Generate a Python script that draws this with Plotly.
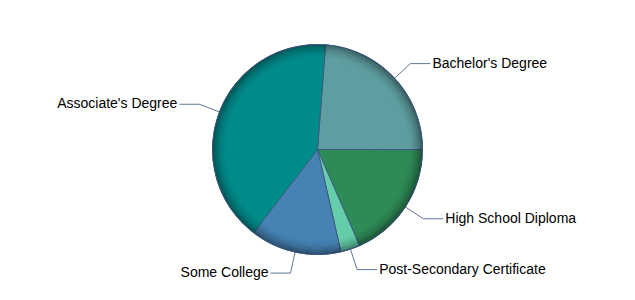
import math
import plotly.graph_objects as go

# Share of respondents by highest education level (percent)
categories = ["Bachelor's Degree", "High School Diploma", "Post-Secondary Certificate",
              "Some College", "Associate's Degree"]
values = [23.8, 18.4, 3.0, 14.0, 40.8]
colors = ["#5F9EA0", "#2E8B57", "#66CDAA", "#4682B4", "#008B8B"]
start_angle = 4.4  # degrees clockwise from 12 o'clock

W, H = 635, 300
cx, cy, R = 317.5, 149.5, 105.0
border = "#3c5a80"
connector = "#5f7595"

fig = go.Figure()

fig.add_trace(go.Pie(
    labels=categories,
    values=values,
    sort=False,
    direction="clockwise",
    rotation=start_angle,
    marker=dict(colors=colors, line=dict(color=border, width=1)),
    textinfo="none",
    hoverinfo="label+percent",
    showlegend=False,
    domain=dict(x=[(cx - R) / W, (cx + R) / W],
                y=[(H - cy - R) / H, (H - cy + R) / H]),
))

# Outside labels with elbow connectors, positioned from each slice's mid-angle
total = sum(values)
acc = 0.0
for name, v in zip(categories, values):
    mid = math.radians(start_angle + 360.0 * (acc + v / 2) / total)
    acc += v
    sx, sy = math.sin(mid), -math.cos(mid)
    ex, ey = cx + R * sx, cy + R * sy
    bx, by = cx + (R + 21.5) * sx, cy + (R + 21.5) * sy
    side = 1 if sx >= 0 else -1
    hx = bx + side * 20
    fig.add_trace(go.Scatter(
        x=[ex, bx, hx], y=[ey, by, by], mode="lines",
        line=dict(color=connector, width=1), hoverinfo="skip", showlegend=False,
    ))
    fig.add_trace(go.Scatter(
        x=[hx + side * 2], y=[by + 0.5], mode="text", text=[name],
        textposition="middle right" if side > 0 else "middle left",
        textfont=dict(family="Liberation Sans, Arial, sans-serif", size=14, color="#000000"),
        hoverinfo="skip", showlegend=False,
    ))

# Darkened rim to give the pie a shaded, rounded look
shapes = []
n = 16
for i in range(n):
    t = (i + 1) / n
    rr = R - (n - 1 - i) - 0.5
    shapes.append(dict(
        type="circle", xref="x", yref="y", layer="above",
        x0=cx - rr, x1=cx + rr, y0=cy - rr, y1=cy + rr,
        line=dict(color="rgba(0,0,0,%.3f)" % (0.36 * t ** 2.2), width=1.2),
    ))
shapes.append(dict(
    type="circle", xref="x", yref="y", layer="above",
    x0=cx - R, x1=cx + R, y0=cy - R, y1=cy + R,
    line=dict(color=border, width=1),
))

fig.update_layout(
    width=W, height=H,
    margin=dict(l=0, r=0, t=0, b=0),
    paper_bgcolor="white", plot_bgcolor="rgba(0,0,0,0)",
    xaxis=dict(range=[0, W], visible=False, fixedrange=True),
    yaxis=dict(range=[H, 0], visible=False, fixedrange=True),
    shapes=shapes,
)

fig.write_html("out.html")
